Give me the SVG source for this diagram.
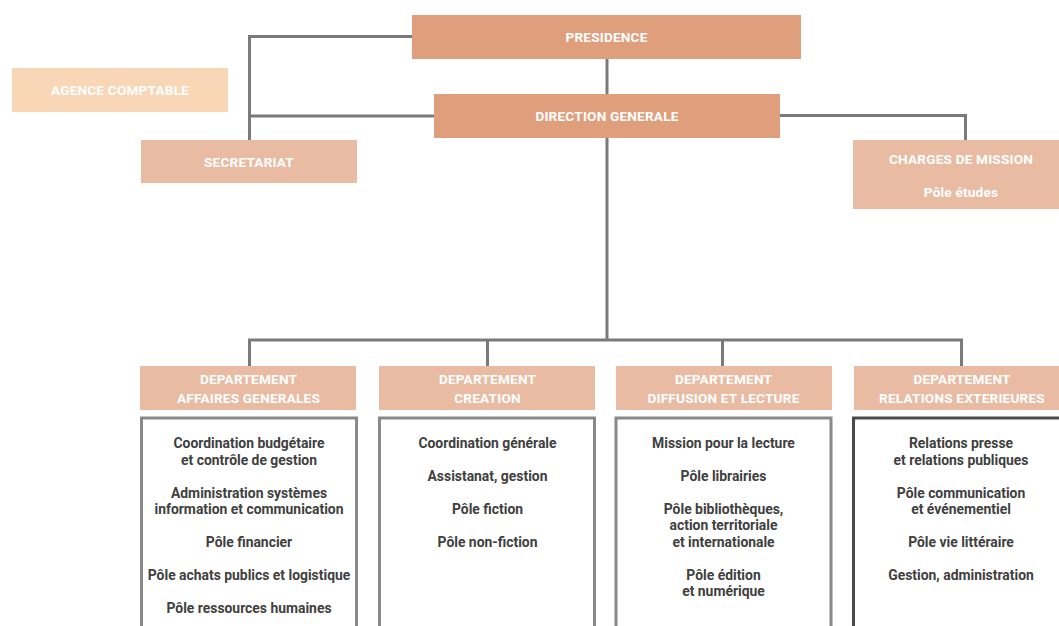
<svg xmlns="http://www.w3.org/2000/svg" width="1059" height="626" viewBox="0 0 1059 626">
<style>
.top{fill:#DF9E7C}
.mid{fill:#E8BBA2}
.light{fill:#F8D6B6}
.hd{font-family:Roboto,"Liberation Sans",sans-serif;font-weight:bold;font-size:13.6px;letter-spacing:0.2px;fill:#ffffff;text-anchor:middle}
.ct{font-family:Roboto,"Liberation Sans",sans-serif;font-weight:bold;font-size:13.9px;fill:#404040;text-anchor:middle}
.box{fill:#ffffff;stroke:#888888;stroke-width:3}
.conn{fill:none;stroke:#7a7a7a;stroke-width:3}
</style>
<rect width="1059" height="626" fill="#ffffff"/>
<g id="connectors">
<path class="conn" d="M412,36.5 H249.5 V140"/>
<path class="conn" d="M434,116 H249.5"/>
<path class="conn" d="M607,59 V94"/>
<path class="conn" d="M780,115.5 H965.5 V140"/>
<path class="conn" d="M607,138 V340 M249.5,366 V340 H961.5 V366 M487.5,340 V366 M722.5,340 V366"/>
</g>
<g id="presidence">
<rect class="top" x="412" y="15" width="389" height="44"/>
<text class="hd" x="606.5" y="42">PRESIDENCE</text>
</g>
<g id="agence-comptable">
<rect class="light" x="12" y="68" width="216" height="44"/>
<text class="hd" x="120" y="95">AGENCE COMPTABLE</text>
</g>
<g id="direction-generale">
<rect class="top" x="434" y="94" width="346" height="44"/>
<text class="hd" x="607" y="121">DIRECTION GENERALE</text>
</g>
<g id="secretariat">
<rect class="mid" x="141" y="140" width="216" height="43"/>
<text class="hd" x="249" y="167">SECRETARIAT</text>
</g>
<g id="charges-de-mission">
<rect class="mid" x="853" y="140" width="216" height="69"/>
<text class="hd" x="961" y="164">CHARGES DE MISSION</text>
<text class="hd" x="961" y="197">Pôle études</text>
</g>
<g id="dept-affaires-generales">
<rect class="mid" x="140" y="366" width="216" height="44"/>
<text class="hd" x="248.5" y="384">DEPARTEMENT</text>
<text class="hd" x="248.5" y="403">AFFAIRES GENERALES</text>
<rect class="box" x="141.5" y="418" width="215" height="230"/>
<text class="ct" x="249" y="448">Coordination budgétaire</text>
<text class="ct" x="249" y="465">et contrôle de gestion</text>
<text class="ct" x="249" y="498">Administration systèmes</text>
<text class="ct" x="249" y="514">information et communication</text>
<text class="ct" x="249" y="547">Pôle financier</text>
<text class="ct" x="249" y="580">Pôle achats publics et logistique</text>
<text class="ct" x="249" y="613">Pôle ressources humaines</text>
</g>
<g id="dept-creation">
<rect class="mid" x="379" y="366" width="216" height="44"/>
<text class="hd" x="487.5" y="384">DEPARTEMENT</text>
<text class="hd" x="487.5" y="403">CREATION</text>
<rect class="box" x="379.5" y="418" width="215" height="230"/>
<text class="ct" x="487.5" y="448">Coordination générale</text>
<text class="ct" x="487.5" y="481">Assistanat, gestion</text>
<text class="ct" x="487.5" y="514">Pôle fiction</text>
<text class="ct" x="487.5" y="547">Pôle non-fiction</text>
</g>
<g id="dept-diffusion-lecture">
<rect class="mid" x="616" y="366" width="216" height="44"/>
<text class="hd" x="723.5" y="384">DEPARTEMENT</text>
<text class="hd" x="723.5" y="403">DIFFUSION ET LECTURE</text>
<rect class="box" x="616" y="418" width="215" height="230"/>
<text class="ct" x="723.5" y="448">Mission pour la lecture</text>
<text class="ct" x="723.5" y="481">Pôle librairies</text>
<text class="ct" x="723.5" y="514">Pôle bibliothèques,</text>
<text class="ct" x="723.5" y="530">action territoriale</text>
<text class="ct" x="723.5" y="547">et internationale</text>
<text class="ct" x="723.5" y="580">Pôle édition</text>
<text class="ct" x="723.5" y="596">et numérique</text>
</g>
<g id="dept-relations-exterieures">
<rect class="mid" x="854" y="366" width="216" height="44"/>
<text class="hd" x="962" y="384">DEPARTEMENT</text>
<text class="hd" x="962" y="403">RELATIONS EXTERIEURES</text>
<rect class="box" x="853.5" y="418" width="215" height="230" style="stroke:#4a4a4a"/>
<text class="ct" x="961" y="448">Relations presse</text>
<text class="ct" x="961" y="465">et relations publiques</text>
<text class="ct" x="961" y="498">Pôle communication</text>
<text class="ct" x="961" y="514">et événementiel</text>
<text class="ct" x="961" y="547">Pôle vie littéraire</text>
<text class="ct" x="961" y="580">Gestion, administration</text>
</g>
</svg>
